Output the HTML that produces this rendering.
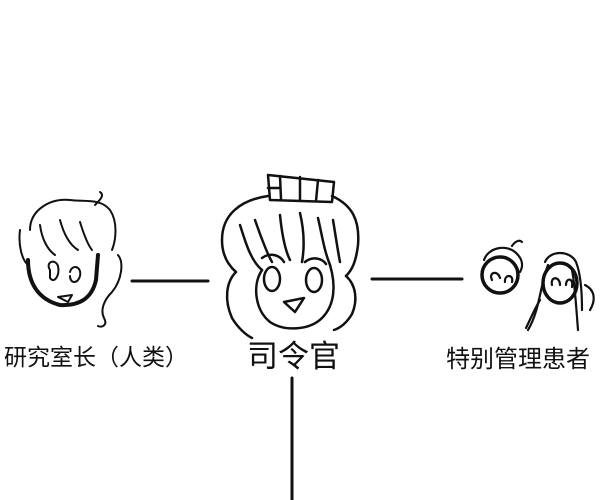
<!DOCTYPE html>
<html><head><meta charset="utf-8"><style>
html,body{margin:0;padding:0;background:#fff;width:600px;height:500px;overflow:hidden}
svg{position:absolute;left:0;top:0}
.t{font-family:"Liberation Sans","Noto Sans CJK SC",sans-serif;fill:#111}
</style></head><body>
<svg width="600" height="500" viewBox="0 0 600 500" fill="none" stroke="#111" stroke-linecap="round" stroke-linejoin="round">
<line x1="132" y1="281" x2="208" y2="281" stroke-width="3"/>
<line x1="372" y1="279" x2="462" y2="279" stroke-width="3"/>
<line x1="292" y1="378" x2="292" y2="500" stroke-width="3"/>

<g stroke-width="2.5">
<path d="M268 175 L334 182 L332 202 L270 200 Z"/>
<path d="M280 176 L281 199 M300 177 L300 200 M318 180 L316 201 M268 188 L280 188"/>
<path d="M268 196 C240 200 222 215 222 240 C222 255 228 265 236 272"/>
<path d="M332 196 C352 205 360 220 358 245 C356 262 352 270 346 276"/>
<path d="M262 270 C252 285 255 310 270 322 C285 332 310 330 322 318 C335 305 336 285 330 265"/>
<path d="M236 272 C226 282 224 300 232 318 C238 328 246 335 252 338"/>
<path d="M346 276 C356 285 358 300 352 314 C346 324 340 328 334 330"/>
<path d="M240 225 C245 240 250 260 262 270 M255 220 C262 240 268 255 272 262 M280 215 C282 235 285 250 290 260 M300 213 C304 230 305 245 302 262 M318 218 C322 235 324 250 330 265 M333 220 C336 238 338 252 340 262"/>
<path d="M262 258 C270 252 280 255 284 262 M305 262 C312 256 322 258 326 264"/>
<ellipse cx="272" cy="279" rx="8" ry="12"/>
<ellipse cx="314" cy="280" rx="8" ry="12"/>
<path d="M284 302 L304 298 L295 312 Z"/>
</g>

<g stroke-width="2">
<path d="M30 230 C30 210 50 198 70 200 C85 202 100 198 110 210 C118 222 116 240 112 250"/>
<path d="M95 205 C100 200 105 195 100 192"/>
<path d="M20 230 C18 245 22 260 28 265 M40 225 C42 240 48 250 55 255 M60 220 C64 235 70 245 78 250 M80 222 C84 235 88 245 92 250"/>
<path d="M28 260 C28 285 40 300 60 305 C80 306 92 298 96 280 L98 255" stroke-width="4"/>
<path d="M50 270 C45 262 55 258 58 266 C60 276 54 284 50 278 Z"/>
<path d="M70 272 C72 264 82 266 80 276 C78 284 70 284 70 276"/>
<path d="M58 297 L72 295 L68 302 Z"/>
<path d="M118 255 C124 262 122 280 112 292 C104 300 100 310 104 318 C108 325 102 328 98 326"/>
</g>

<g stroke-width="2.2">
<circle cx="500" cy="275" r="18" stroke-width="3.5"/>
<path d="M484 260 C488 248 505 244 515 252 C522 258 524 265 520 272 M512 246 C516 240 520 240 522 242"/>
<path d="M492 280 C488 272 498 270 500 278 M505 282 C504 274 514 274 512 282"/>
<ellipse cx="560" cy="283" rx="17" ry="20" stroke-width="3.5"/>
<path d="M545 262 C550 250 570 250 576 262 C580 272 582 290 582 310 M548 265 C540 285 540 310 528 330 M572 270 C575 285 576 305 578 330"/>
<path d="M552 285 C550 276 560 276 560 285 M566 285 C566 277 574 278 572 287"/>
<path d="M585 285 C595 290 596 300 590 310 M540 300 C534 310 530 320 526 328"/>
</g>

<text class="t" x="4" y="365" font-size="23" stroke="none">研究室长（人类）</text>
<text class="t" x="247" y="367" font-size="31" stroke="none">司令官</text>
<text class="t" x="446" y="367" font-size="24" stroke="none">特别管理患者</text>
</svg>
</body></html>
